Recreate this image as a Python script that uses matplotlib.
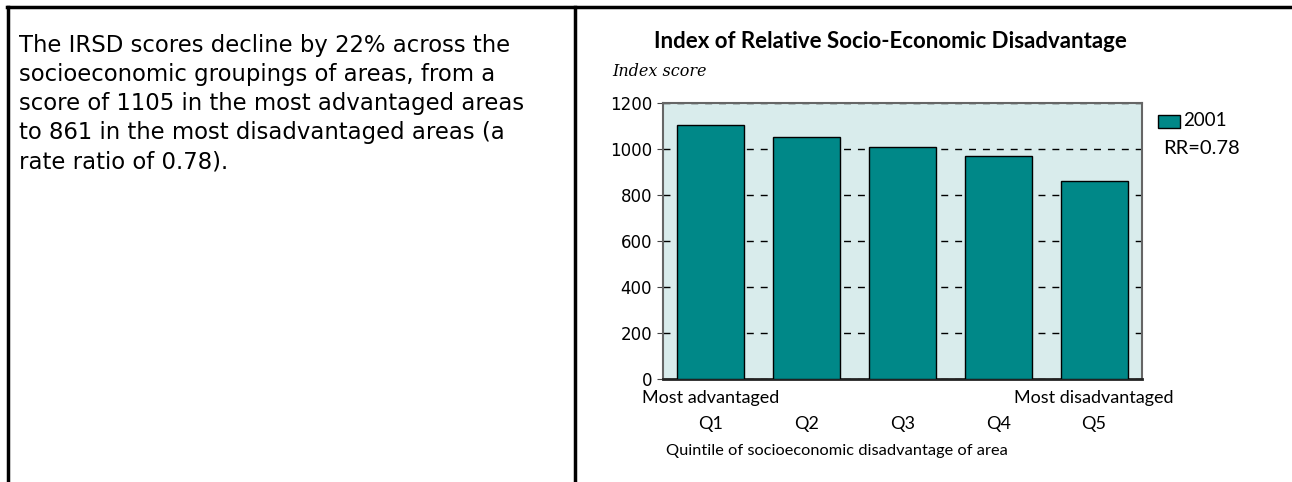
import matplotlib.pyplot as plt
from matplotlib.lines import Line2D
from matplotlib.patches import Rectangle

# data
quintiles = ["Q1", "Q2", "Q3", "Q4", "Q5"]
scores_2001 = [1105, 1053, 1007, 970, 861]
y_ticks = [0, 200, 400, 600, 800, 1000, 1200]
series_label = "2001"
rr_label = "RR=0.78"

summary = ("The IRSD scores decline by 22% across the\n"
           "socioeconomic groupings of areas, from a\n"
           "score of 1105 in the most advantaged areas\n"
           "to 861 in the most disadvantaged areas (a\n"
           "rate ratio of 0.78).")

W, H = 1292, 482
bar_col = "#008888"
bg_col = "#d9ecec"

fig = plt.figure(figsize=(W / 100, H / 100), dpi=100)


def fx(px):
    return px / W


def fy(py):
    return 1 - py / H


# panel frame lines
for x0, y0, x1, y1 in [(7, 7, W, 7), (8, 7, 8, H), (575, 7, 575, H)]:
    fig.add_artist(Line2D([fx(x0), fx(x1)], [fy(y0), fy(y1)], color="black",
                          lw=2.5, transform=fig.transFigure))

fig.text(fx(19), fy(34), summary, ha="left", va="top", fontsize=16.4,
         family="DejaVu Sans", linespacing=1.34)

# chart
ax = fig.add_axes([fx(663), fy(379), fx(1142 - 663), (379 - 103) / H])
ax.set_facecolor(bg_col)
xs = range(len(quintiles))
ax.bar(xs, scores_2001, width=0.7, color=bar_col, edgecolor="black", lw=1, zorder=3)
ax.set_xlim(-0.5, len(quintiles) - 0.5)
ax.set_ylim(0, 1200)
ax.set_yticks(y_ticks)
ax.set_yticklabels([str(v) for v in y_ticks], fontsize=12, family="DejaVu Sans")
ax.yaxis.grid(True, color="black", linestyle=(0, (5, 5)), lw=1, zorder=1)
ax.set_axisbelow(True)
ax.tick_params(axis="y", length=4, color="#444444", pad=4)
ax.set_xticks(list(xs))
ax.set_xticklabels(quintiles, fontsize=13, family="Lato")
ax.tick_params(axis="x", length=0, pad=27)
for s in ["left", "right", "top"]:
    ax.spines[s].set_color("#666666")
    ax.spines[s].set_linewidth(1.5)
ax.spines["bottom"].set_color("#222222")
ax.spines["bottom"].set_linewidth(2)

ax.text(0, -0.07, "Most advantaged", transform=ax.get_xaxis_transform(),
        ha="center", va="center", fontsize=13, family="Lato")
ax.text(4, -0.07, "Most disadvantaged", transform=ax.get_xaxis_transform(),
        ha="center", va="center", fontsize=13, family="Lato")

fig.text(fx(837), fy(451), "Quintile of socioeconomic disadvantage of area",
         ha="center", va="center", fontsize=11.8, family="Lato")
fig.text(fx(890), fy(41), "Index of Relative Socio-Economic Disadvantage",
         ha="center", va="center", fontsize=16, family="Lato", weight="bold")
fig.text(fx(612), fy(72), "Index score", ha="left", va="center", fontsize=11.5,
         family="DejaVu Serif", style="italic")

# legend
fig.add_artist(Rectangle((fx(1158), fy(128)), fx(22), 13 / H, facecolor=bar_col,
                         edgecolor="black", lw=1, transform=fig.transFigure))
fig.text(fx(1183), fy(121), series_label, ha="left", va="center", fontsize=13.5,
         family="Lato")
fig.text(fx(1163), fy(148), rr_label, ha="left", va="center", fontsize=14.5,
         family="Lato")

fig.savefig("out.png", dpi=100)
